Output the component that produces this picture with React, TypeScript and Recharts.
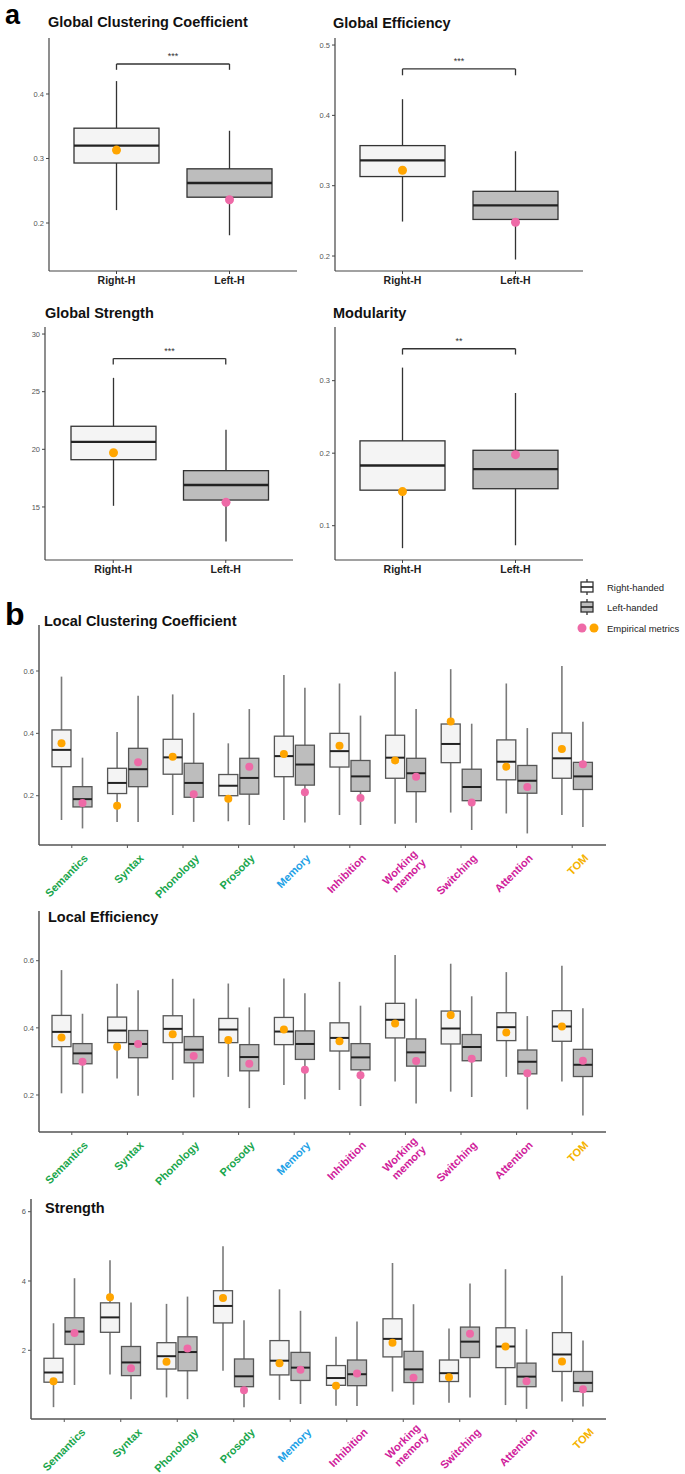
import React from "react";
import { ComposedChart, Bar, XAxis, YAxis, ReferenceLine } from "recharts";

const FONT = '"Liberation Sans", Arial, Helvetica, sans-serif';
const ORANGE = "#FFA500";
const PINK = "#EE6AA7";
const LIGHT = "#F4F4F4";
const DARK = "#BDBDBD";

// box stats are [whiskerLow, q1, median, q3, whiskerHigh]
const handed = ["Right-H", "Left-H"];
const gccStats = [[0.22, 0.293, 0.32, 0.347, 0.42], [0.181, 0.24, 0.262, 0.284, 0.343]];
const gccEmp = [0.313, 0.236];
const gefStats = [[0.249, 0.313, 0.336, 0.357, 0.423], [0.195, 0.252, 0.272, 0.292, 0.349]];
const gefEmp = [0.322, 0.248];
const gstStats = [[15.1, 19.1, 20.65, 22.0, 26.2], [12.0, 15.6, 16.9, 18.15, 21.7]];
const gstEmp = [19.7, 15.4];
const modStats = [[0.069, 0.149, 0.183, 0.217, 0.318], [0.073, 0.151, 0.178, 0.204, 0.283]];
const modEmp = [0.147, 0.198];

const categories = ["Semantics", "Syntax", "Phonology", "Prosody", "Memory", "Inhibition", "Working memory", "Switching", "Attention", "TOM"];
const catColors = ["#19a64c", "#19a64c", "#19a64c", "#19a64c", "#1da1e6", "#d0209a", "#d0209a", "#d0209a", "#d0209a", "#f5b301"];

const lccRight = [
  [0.122, 0.293, 0.347, 0.411, 0.582], [0.116, 0.207, 0.241, 0.288, 0.404], [0.138, 0.269, 0.323, 0.381, 0.525],
  [0.118, 0.2, 0.232, 0.268, 0.368], [0.122, 0.261, 0.327, 0.391, 0.587], [0.138, 0.292, 0.343, 0.4, 0.56],
  [0.11, 0.256, 0.322, 0.394, 0.598], [0.146, 0.306, 0.366, 0.43, 0.606], [0.143, 0.251, 0.309, 0.379, 0.56],
  [0.138, 0.256, 0.32, 0.401, 0.616],
];
const lccLeft = [
  [0.095, 0.164, 0.189, 0.229, 0.322], [0.116, 0.229, 0.285, 0.352, 0.521], [0.116, 0.195, 0.241, 0.304, 0.466],
  [0.106, 0.205, 0.257, 0.32, 0.478], [0.114, 0.234, 0.3, 0.362, 0.546], [0.106, 0.214, 0.262, 0.313, 0.457],
  [0.113, 0.213, 0.272, 0.32, 0.478], [0.09, 0.184, 0.228, 0.285, 0.431], [0.079, 0.208, 0.248, 0.297, 0.417],
  [0.1, 0.22, 0.262, 0.307, 0.437],
];
const lccEmpRight = [0.368, 0.168, 0.325, 0.19, 0.334, 0.36, 0.313, 0.438, 0.293, 0.35];
const lccEmpLeft = [0.177, 0.307, 0.205, 0.293, 0.211, 0.193, 0.261, 0.178, 0.228, 0.301];

const leRight = [
  [0.205, 0.344, 0.388, 0.437, 0.572], [0.249, 0.356, 0.392, 0.432, 0.531], [0.245, 0.356, 0.397, 0.436, 0.546],
  [0.254, 0.356, 0.395, 0.428, 0.532], [0.23, 0.35, 0.389, 0.431, 0.547], [0.215, 0.331, 0.37, 0.415, 0.537],
  [0.24, 0.37, 0.424, 0.473, 0.617], [0.21, 0.352, 0.398, 0.45, 0.591], [0.254, 0.362, 0.402, 0.445, 0.566],
  [0.24, 0.36, 0.404, 0.451, 0.585],
];
const leLeft = [
  [0.205, 0.293, 0.324, 0.353, 0.442], [0.198, 0.311, 0.352, 0.392, 0.512], [0.193, 0.296, 0.335, 0.374, 0.487],
  [0.161, 0.272, 0.313, 0.35, 0.461], [0.187, 0.306, 0.352, 0.391, 0.503], [0.167, 0.275, 0.312, 0.353, 0.466],
  [0.175, 0.286, 0.327, 0.367, 0.487], [0.194, 0.302, 0.343, 0.38, 0.494], [0.157, 0.263, 0.299, 0.334, 0.435],
  [0.139, 0.255, 0.29, 0.336, 0.458],
];
const leEmpRight = [0.371, 0.344, 0.381, 0.364, 0.395, 0.36, 0.413, 0.438, 0.386, 0.404];
const leEmpLeft = [0.299, 0.352, 0.316, 0.293, 0.275, 0.259, 0.301, 0.308, 0.265, 0.302];

const stRight = [
  [0.36, 1.08, 1.36, 1.77, 2.78], [1.3, 2.52, 2.95, 3.37, 4.6], [0.64, 1.46, 1.83, 2.22, 3.34],
  [1.41, 2.79, 3.28, 3.72, 5.0], [0.57, 1.29, 1.7, 2.28, 3.76], [0.4, 0.99, 1.2, 1.56, 2.39],
  [0.81, 1.81, 2.33, 2.91, 4.52], [0.49, 1.1, 1.34, 1.72, 2.63], [0.42, 1.5, 2.11, 2.65, 4.34],
  [0.52, 1.39, 1.88, 2.51, 4.15],
];
const stLeft = [
  [1.0, 2.17, 2.54, 2.94, 4.08], [0.59, 1.27, 1.65, 2.11, 3.38], [0.59, 1.41, 1.95, 2.39, 3.55],
  [0.36, 0.95, 1.25, 1.75, 2.87], [0.45, 1.13, 1.5, 1.94, 3.14], [0.39, 0.98, 1.31, 1.72, 2.83],
  [0.43, 1.07, 1.45, 1.97, 3.33], [0.64, 1.79, 2.25, 2.67, 3.93], [0.31, 0.95, 1.24, 1.63, 2.61],
  [0.38, 0.81, 1.06, 1.39, 2.28],
];
const stEmpRight = [1.11, 3.53, 1.67, 3.51, 1.63, 0.98, 2.22, 1.22, 2.11, 1.68];
const stEmpLeft = [2.5, 1.48, 2.05, 0.85, 1.44, 1.33, 1.21, 2.48, 1.11, 0.88];

type Style = { whisker: string; ww: number; box: string; bw: number; mw: number; r: number };
const styleA: Style = { whisker: "#333", ww: 1.3, box: "#333", bw: 1.3, mw: 2.4, r: 4.5 };
const styleB: Style = { whisker: "#7a7a7a", ww: 1.6, box: "#555", bw: 1.3, mw: 2, r: 4 };

// custom bar shape: the bar spans whisker low..high, box/median/dot placed on the same scale
function boxShape(statsKey: string, empKey: string, fills: string[], dots: string[], s: Style) {
  return (props: any) => {
    const { x, y, width, height, payload, index } = props;
    const st: number[] = payload[statsKey];
    const lo = st[0];
    const hi = st[4];
    const py = (v: number) => y + (height * (hi - v)) / (hi - lo);
    const cx = x + width / 2;
    const fill = fills.length === 1 ? fills[0] : fills[index];
    const dot = dots.length === 1 ? dots[0] : dots[index];
    return (
      <g>
        <line x1={cx} x2={cx} y1={py(hi)} y2={py(lo)} stroke={s.whisker} strokeWidth={s.ww} />
        <rect x={x} y={py(st[3])} width={width} height={py(st[1]) - py(st[3])} fill={fill} stroke={s.box} strokeWidth={s.bw} />
        <line x1={x} x2={x + width} y1={py(st[2])} y2={py(st[2])} stroke="#222" strokeWidth={s.mw} />
        <circle cx={cx} cy={py(payload[empKey])} r={s.r} fill={dot} />
      </g>
    );
  };
}

function GlobalChart(p: {
  stats: number[][]; emp: number[]; domain: [number, number]; ticks: number[];
  sig: string; bracket: number; drop: number; yw: number; pad: { left: number; right: number };
  left: number; top: number;
}) {
  const data = handed.map((h, i) => ({ name: h, range: [p.stats[i][0], p.stats[i][4]], stats: p.stats[i], emp: p.emp[i] }));
  const ln = { stroke: "#333", strokeWidth: 1.3 };
  return (
    <div style={{ position: "absolute", left: p.left, top: p.top }}>
      <ComposedChart width={340} height={300} data={data} margin={{ top: 38, right: 340 - p.yw - 248, bottom: 9, left: 0 }}>
        <XAxis dataKey="name" type="category" interval={0} padding={p.pad} height={20} tickSize={3} tickMargin={3}
          axisLine={{ stroke: "#444", strokeWidth: 1.2 }} tickLine={{ stroke: "#444" }}
          tick={{ fontSize: 10.5, fontWeight: "bold", fill: "#222", fontFamily: FONT }} />
        <YAxis type="number" domain={p.domain} ticks={p.ticks} allowDataOverflow width={p.yw} tickSize={3} tickMargin={2}
          axisLine={{ stroke: "#444", strokeWidth: 1.2 }} tickLine={{ stroke: "#444" }}
          tick={{ fontSize: 7.5, fill: "#555", fontFamily: FONT }} />
        <Bar dataKey="range" barSize={85} isAnimationActive={false}
          shape={boxShape("stats", "emp", [LIGHT, DARK], [ORANGE, PINK], styleA)} />
        <ReferenceLine segment={[{ x: "Right-H", y: p.bracket }, { x: "Left-H", y: p.bracket }]} {...ln}
          label={{ value: p.sig, position: "top", fontSize: 9, fill: "#333", fontFamily: FONT }} />
        <ReferenceLine segment={[{ x: "Right-H", y: p.bracket }, { x: "Right-H", y: p.bracket - p.drop }]} {...ln} />
        <ReferenceLine segment={[{ x: "Left-H", y: p.bracket }, { x: "Left-H", y: p.bracket - p.drop }]} {...ln} />
      </ComposedChart>
    </div>
  );
}

function CatTick(props: any) {
  const { x, y, payload, dx, dy } = props;
  const name: string = payload.value;
  const lines = name.split(" ");
  const color = catColors[categories.indexOf(name)];
  return (
    <g transform={`translate(${x + dx},${y + dy}) rotate(-45)`}>
      <text textAnchor="end" fill={color} fontSize={11} fontWeight="bold" fontFamily={FONT}>
        {lines.map((l, i) => (
          <tspan key={i} x={0} dy={i === 0 ? (lines.length > 1 ? -2 : 4) : 12}>{l}</tspan>
        ))}
      </text>
    </g>
  );
}

function LocalChart(p: {
  right: number[][]; left: number[][]; rEmp: number[]; lEmp: number[];
  domain: [number, number]; ticks: number[]; top: number; height: number; mt: number; mb: number; yw: number;
  pad: { left: number; right: number }; lx: number;
}) {
  const data = categories.map((c, i) => ({
    name: c,
    rRange: [p.right[i][0], p.right[i][4]], rStats: p.right[i], rEmp: p.rEmp[i],
    lRange: [p.left[i][0], p.left[i][4]], lStats: p.left[i], lEmp: p.lEmp[i],
  }));
  return (
    <div style={{ position: "absolute", left: 0, top: p.top }}>
      <ComposedChart width={685} height={p.height} data={data} barGap={2} margin={{ top: p.mt, right: 79, bottom: p.mb, left: 0 }}>
        <XAxis dataKey="name" type="category" interval={0} padding={p.pad} height={45} tickSize={3} tickMargin={2}
          axisLine={{ stroke: "#555", strokeWidth: 1.5 }} tickLine={{ stroke: "#555" }}
          tick={(tp: any) => <CatTick {...tp} dx={p.lx} dy={6} />} />
        <YAxis type="number" domain={p.domain} ticks={p.ticks} allowDataOverflow width={p.yw} tickSize={3} tickMargin={2}
          axisLine={{ stroke: "#555", strokeWidth: 1.5 }} tickLine={{ stroke: "#555" }}
          tick={{ fontSize: 7.5, fill: "#555", fontFamily: FONT }} />
        <Bar dataKey="rRange" barSize={19} isAnimationActive={false}
          shape={boxShape("rStats", "rEmp", [LIGHT], [ORANGE], styleB)} />
        <Bar dataKey="lRange" barSize={19} isAnimationActive={false}
          shape={boxShape("lStats", "lEmp", [DARK], [PINK], styleB)} />
      </ComposedChart>
    </div>
  );
}

const Title = ({ x, cy, size, children }: { x: number; cy: number; size: number; children: React.ReactNode }) => (
  <div style={{ position: "absolute", left: x, top: cy - size * 0.49, fontSize: size, lineHeight: 1, fontWeight: "bold", fontFamily: FONT, color: "#111", whiteSpace: "nowrap" }}>
    {children}
  </div>
);

function Legend() {
  const icon = (fill: string) => (
    <g>
      <line x1={7} x2={7} y1={0} y2={16} stroke="#333" strokeWidth={1.3} />
      <rect x={1} y={3} width={12} height={10} fill={fill} stroke="#333" strokeWidth={1.3} />
      <line x1={1} x2={13} y1={8} y2={8} stroke="#222" strokeWidth={1.6} />
    </g>
  );
  const txt = { fontSize: 9.5, fill: "#222", fontFamily: FONT };
  return (
    <svg width={110} height={60} style={{ position: "absolute", left: 576, top: 577 }}>
      <g transform="translate(4,2)">{icon("#fff")}</g>
      <text x={31} y={14} {...txt}>Right-handed</text>
      <g transform="translate(4,22)">{icon(DARK)}</g>
      <text x={31} y={34} {...txt}>Left-handed</text>
      <circle cx={6} cy={51} r={4.5} fill={PINK} />
      <circle cx={18} cy={51} r={4.5} fill={ORANGE} />
      <text x={31} y={55} {...txt}>Empirical metrics</text>
    </svg>
  );
}

export default function App() {
  return (
    <div style={{ position: "absolute", left: 0, top: 0, width: 685, height: 1474, background: "#fff", overflow: "hidden", fontFamily: FONT }}>
      <div style={{ position: "absolute", left: 5, top: 0, fontSize: 27, lineHeight: 1.15, fontWeight: "bold", fontFamily: FONT }}>a</div>
      <div style={{ position: "absolute", left: 5, top: 598, fontSize: 32, lineHeight: 1, fontWeight: "bold", fontFamily: FONT }}>b</div>

      <GlobalChart stats={gccStats} emp={gccEmp} domain={[0.1256, 0.4868]} ticks={[0.2, 0.3, 0.4]} sig="***"
        bracket={0.4465} drop={0.009} yw={49} pad={{ left: 11, right: 11 }} left={0} top={0} />
      <GlobalChart stats={gefStats} emp={gefEmp} domain={[0.1787, 0.51]} ticks={[0.2, 0.3, 0.4, 0.5]} sig="***"
        bracket={0.466} drop={0.009} yw={49} pad={{ left: 11, right: 11 }} left={286} top={0} />
      <GlobalChart stats={gstStats} emp={gstEmp} domain={[10.4, 30.61]} ticks={[15, 20, 25, 30]} sig="***"
        bracket={27.87} drop={0.52} yw={45} pad={{ left: 12, right: 11 }} left={0} top={289} />
      <GlobalChart stats={modStats} emp={modEmp} domain={[0.0527, 0.374]} ticks={[0.1, 0.2, 0.3]} sig="**"
        bracket={0.344} drop={0.008} yw={49} pad={{ left: 11, right: 11 }} left={286} top={289} />

      <Title x={48} cy={22} size={14.5}>Global Clustering Coefficient</Title>
      <Title x={333} cy={23} size={14.5}>Global Efficiency</Title>
      <Title x={45} cy={313} size={14.5}>Global Strength</Title>
      <Title x={333} cy={313} size={14.5}>Modularity</Title>

      <Legend />

      <LocalChart right={lccRight} left={lccLeft} rEmp={lccEmpRight} lEmp={lccEmpLeft} domain={[0.0419, 0.7476]}
        ticks={[0.2, 0.4, 0.6]} top={600} height={325} mt={25} mb={35} yw={39} pad={{ left: 5, right: 6 }} lx={14} />
      <LocalChart right={leRight} left={leLeft} rEmp={leEmpRight} lEmp={leEmpLeft} domain={[0.0898, 0.748]}
        ticks={[0.2, 0.4, 0.6]} top={890} height={322} mt={21} mb={35} yw={39} pad={{ left: 5, right: 6 }} lx={14} />
      <LocalChart right={stRight} left={stLeft} rEmp={stEmpRight} lEmp={stEmpLeft} domain={[0.018, 6.366]}
        ticks={[2, 4, 6]} top={1180} height={294} mt={19} mb={10} yw={31} pad={{ left: 5, right: 5 }} lx={19} />

      <Title x={44} cy={621} size={14.5}>Local Clustering Coefficient</Title>
      <Title x={48} cy={917} size={14.5}>Local Efficiency</Title>
      <Title x={45} cy={1208} size={14.5}>Strength</Title>
    </div>
  );
}
